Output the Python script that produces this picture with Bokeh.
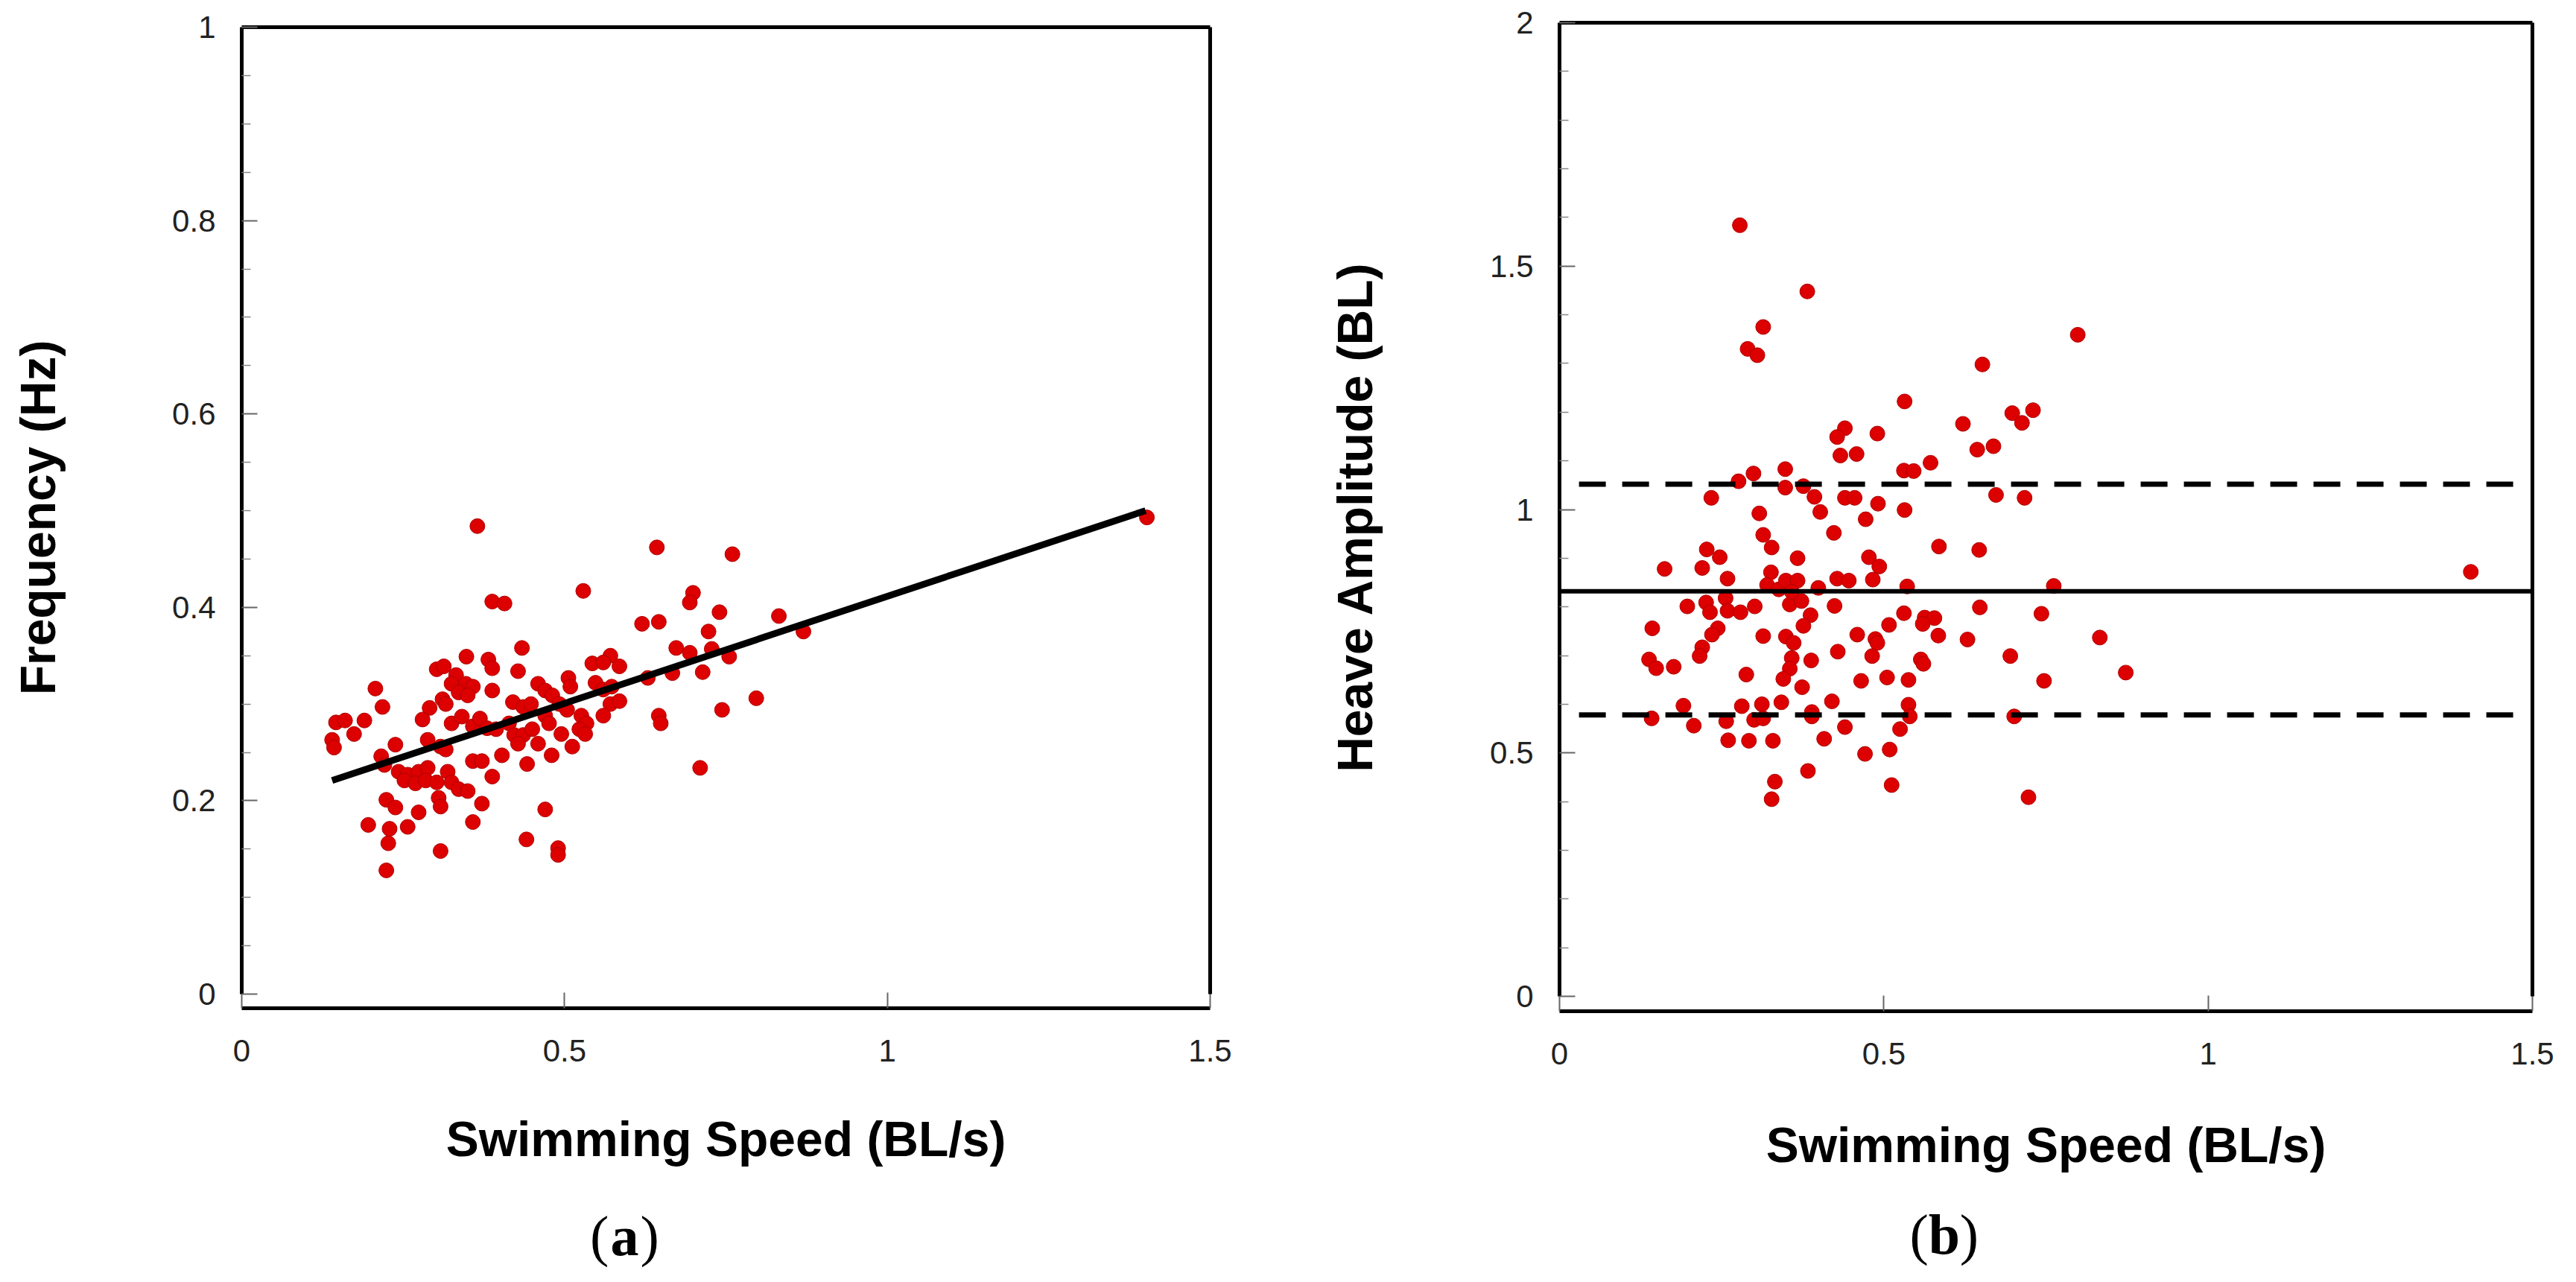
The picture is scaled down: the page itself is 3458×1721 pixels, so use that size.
from bokeh.plotting import figure
from bokeh.models import Range1d, FixedTicker, LinearAxis, Label
from bokeh.layouts import row, column
from bokeh.embed import file_html
from bokeh.resources import INLINE

# ---------------- data: panel (a) ----------------
speed_a = [0.365, 0.643, 0.760, 0.529, 0.388, 0.407, 0.699, 0.694, 0.740, 0.832,
           0.620, 0.646, 0.723, 0.870, 0.434, 0.673, 0.694, 0.728, 0.755, 0.348,
           0.382, 0.388, 0.428, 0.543, 0.571, 0.560, 0.585, 0.629, 0.667, 0.714,
           0.302, 0.313, 0.332, 0.325, 0.347, 0.358, 0.336, 0.350, 0.207, 0.388,
           0.459, 0.470, 0.506, 0.509, 0.548, 0.560, 0.573, 0.311, 0.316, 0.218,
           0.420, 0.436, 0.448, 0.481, 0.492, 0.504, 0.571, 0.585, 0.797, 0.744,
           0.291, 0.280, 0.146, 0.160, 0.190, 0.174, 0.140, 0.143, 0.238, 0.216,
           0.221, 0.288, 0.308, 0.316, 0.325, 0.341, 0.358, 0.369, 0.380, 0.394,
           0.414, 0.422, 0.436, 0.428, 0.450, 0.459, 0.470, 0.476, 0.495, 0.512,
           0.526, 0.534, 0.523, 0.532, 0.560, 0.646, 0.649, 0.358, 0.372, 0.403,
           0.442, 0.480, 0.388, 0.710, 0.243, 0.257, 0.274, 0.288, 0.252, 0.269,
           0.285, 0.302, 0.319, 0.325, 0.336, 0.350, 0.224, 0.238, 0.305, 0.308,
           0.372, 0.274, 0.470, 0.196, 0.229, 0.257, 0.358, 0.227, 0.308, 0.441,
           0.490, 0.490, 0.224, 1.402]
freq_a = [0.484, 0.462, 0.455, 0.417, 0.406, 0.404, 0.415, 0.405, 0.395, 0.391,
          0.383, 0.385, 0.375, 0.375, 0.358, 0.358, 0.353, 0.357, 0.349, 0.349,
          0.346, 0.337, 0.334, 0.342, 0.350, 0.343, 0.339, 0.327, 0.332, 0.333,
          0.336, 0.339, 0.330, 0.321, 0.321, 0.318, 0.312, 0.309, 0.316, 0.314,
          0.321, 0.314, 0.327, 0.318, 0.322, 0.315, 0.318, 0.305, 0.300, 0.297,
          0.302, 0.297, 0.300, 0.309, 0.300, 0.294, 0.300, 0.303, 0.306, 0.294,
          0.296, 0.284, 0.281, 0.283, 0.283, 0.269, 0.263, 0.255, 0.258, 0.246,
          0.237, 0.263, 0.256, 0.253, 0.280, 0.287, 0.277, 0.285, 0.275, 0.274,
          0.280, 0.268, 0.268, 0.259, 0.274, 0.259, 0.288, 0.280, 0.269, 0.256,
          0.288, 0.280, 0.274, 0.269, 0.288, 0.288, 0.280, 0.241, 0.241, 0.247,
          0.238, 0.247, 0.225, 0.234, 0.230, 0.227, 0.230, 0.234, 0.221, 0.218,
          0.221, 0.219, 0.230, 0.219, 0.212, 0.210, 0.201, 0.193, 0.203, 0.194,
          0.197, 0.188, 0.191, 0.175, 0.171, 0.173, 0.178, 0.156, 0.148, 0.160,
          0.151, 0.144, 0.128, 0.493]
fit_speed = [0.14, 1.40]
fit_freq = [0.221, 0.500]

# ---------------- data: panel (b) ----------------
speed_b = [0.278, 0.382, 0.314, 0.290, 0.305, 0.799, 0.652, 0.532, 0.730, 0.698,
           0.713, 0.622, 0.440, 0.428, 0.490, 0.433, 0.458, 0.669, 0.644, 0.572,
           0.531, 0.546, 0.299, 0.276, 0.348, 0.348, 0.376, 0.393, 0.402, 0.234,
           0.440, 0.455, 0.491, 0.673, 0.717, 0.308, 0.532, 0.472, 0.423, 0.314,
           0.327, 0.227, 0.247, 0.220, 0.162, 0.367, 0.585, 0.647, 0.477, 0.493,
           0.483, 0.259, 0.326, 0.320, 0.338, 0.349, 0.367, 0.399, 0.428, 0.446,
           0.536, 0.762, 0.226, 0.256, 0.232, 0.259, 0.279, 0.301, 0.197, 0.355,
           0.373, 0.358, 0.424, 0.648, 0.531, 0.563, 0.578, 0.560, 0.743, 0.143,
           0.244, 0.235, 0.387, 0.376, 0.508, 0.314, 0.349, 0.361, 0.459, 0.487,
           0.490, 0.584, 0.629, 0.833, 0.220, 0.216, 0.138, 0.149, 0.176, 0.358,
           0.355, 0.388, 0.429, 0.482, 0.557, 0.561, 0.695, 0.873, 0.288, 0.345,
           0.374, 0.465, 0.505, 0.538, 0.747, 0.191, 0.281, 0.312, 0.342, 0.420,
           0.538, 0.142, 0.207, 0.257, 0.300, 0.314, 0.389, 0.389, 0.440, 0.540,
           0.525, 0.701, 0.260, 0.292, 0.329, 0.408, 0.471, 0.509, 0.383, 0.332,
           0.327, 0.512, 0.723, 1.405]
heave_b = [1.584, 1.448, 1.375, 1.330, 1.317, 1.359, 1.298, 1.222, 1.204, 1.198,
           1.178, 1.176, 1.167, 1.149, 1.156, 1.111, 1.114, 1.130, 1.123, 1.096,
           1.080, 1.079, 1.074, 1.058, 1.083, 1.045, 1.048, 1.026, 0.995, 1.024,
           1.024, 1.024, 1.012, 1.030, 1.024, 0.992, 0.999, 0.980, 0.952, 0.948,
           0.922, 0.918, 0.902, 0.880, 0.878, 0.900, 0.924, 0.917, 0.902, 0.883,
           0.856, 0.858, 0.871, 0.845, 0.836, 0.854, 0.854, 0.839, 0.858, 0.854,
           0.842, 0.843, 0.809, 0.818, 0.789, 0.792, 0.789, 0.801, 0.801, 0.805,
           0.812, 0.831, 0.802, 0.799, 0.787, 0.778, 0.777, 0.765, 0.786, 0.756,
           0.756, 0.743, 0.783, 0.761, 0.763, 0.740, 0.739, 0.726, 0.743, 0.734,
           0.726, 0.741, 0.733, 0.737, 0.717, 0.699, 0.692, 0.674, 0.677, 0.695,
           0.673, 0.690, 0.708, 0.699, 0.692, 0.683, 0.699, 0.665, 0.661, 0.652,
           0.635, 0.648, 0.655, 0.650, 0.648, 0.597, 0.596, 0.600, 0.604, 0.606,
           0.599, 0.571, 0.556, 0.565, 0.568, 0.571, 0.584, 0.575, 0.553, 0.575,
           0.549, 0.575, 0.526, 0.525, 0.525, 0.529, 0.498, 0.507, 0.463, 0.441,
           0.405, 0.434, 0.409, 0.872]
heave_mean = 0.832
heave_upper = 1.052
heave_lower = 0.578
mean_line_x = [0.0, 1.5]
band_line_x = [0.03, 1.49]

# ---------------- ticks ----------------
x_ticks = [0, 0.5, 1, 1.5]
x_tick_labels = ["0", "0.5", "1", "1.5"]
ya_ticks = [0, 0.2, 0.4, 0.6, 0.8, 1]
ya_tick_labels = ["0", "0.2", "0.4", "0.6", "0.8", "1"]
yb_ticks = [0, 0.5, 1, 1.5, 2]
yb_tick_labels = ["0", "0.5", "1", "1.5", "2"]

SANS = "Liberation Sans"
SERIF = "Liberation Serif"
RED = "#dc0000"
RED_EDGE = "#b00000"


def style_axis(ax, ticks, labels, minor, bounds, label_standoff, axis_label_standoff):
    ax.ticker = FixedTicker(ticks=ticks, minor_ticks=minor)
    ax.major_label_overrides = {t: s for t, s in zip(ticks, labels)}
    ax.bounds = bounds
    ax.axis_line_width = 5
    ax.axis_line_color = "black"
    ax.major_tick_in = 21
    ax.major_tick_out = 0
    ax.minor_tick_in = 12
    ax.minor_tick_out = 0
    ax.major_tick_line_color = "#666666"
    ax.major_tick_line_width = 2
    ax.minor_tick_line_color = "#888888"
    ax.minor_tick_line_width = 1.5
    ax.major_label_text_font = SANS
    ax.major_label_text_font_size = "42px"
    ax.major_label_text_color = "#222222"
    ax.major_label_standoff = label_standoff
    ax.axis_label_text_font = SANS
    ax.axis_label_text_font_size = "66px"
    ax.axis_label_text_font_style = "bold"
    ax.axis_label_text_color = "black"
    ax.axis_label_standoff = axis_label_standoff


def border_axis(p, side, bounds):
    ax = LinearAxis(ticker=FixedTicker(ticks=[], minor_ticks=[]), bounds=bounds,
                    axis_line_width=5, axis_line_color="black",
                    major_tick_in=0, major_tick_out=0, minor_tick_in=0, minor_tick_out=0,
                    major_label_text_font_size="0px")
    p.add_layout(ax, side)


def make_fig(fw, fh, bl, br, bt, bb, ystart, yend, yticks, ylabels, yminor, ylabel,
             x_lab_standoff, y_lab_standoff):
    p = figure(frame_width=fw, frame_height=fh,
               min_border_left=bl, min_border_right=br,
               min_border_top=bt, min_border_bottom=bb,
               x_range=Range1d(0, 1.5), y_range=Range1d(ystart, yend),
               output_backend="svg", toolbar_location=None)
    p.outline_line_color = None
    p.xgrid.grid_line_color = None
    p.ygrid.grid_line_color = None
    p.background_fill_color = "white"
    p.border_fill_color = "white"
    style_axis(p.xaxis[0], x_ticks, x_tick_labels, [], (0, 1.5), 42, x_lab_standoff)
    style_axis(p.yaxis[0], yticks, ylabels, yminor, (0, yend), 35, y_lab_standoff)
    p.xaxis[0].axis_label = "Swimming Speed (BL/s)"
    p.yaxis[0].axis_label = ylabel
    border_axis(p, "right", (0, yend))
    border_axis(p, "above", (0, 1.5))
    return p


def label_fig(fw, bl, br, letter, x, y):
    f = figure(frame_width=fw, frame_height=100,
               min_border_left=bl, min_border_right=br,
               min_border_top=0, min_border_bottom=0,
               x_range=Range1d(0, 1.5), y_range=Range1d(0, 100),
               x_axis_location=None, y_axis_location=None,
               output_backend="svg", toolbar_location=None)
    f.outline_line_color = None
    f.xgrid.grid_line_color = None
    f.ygrid.grid_line_color = None
    f.background_fill_color = "white"
    f.border_fill_color = "white"
    parts = [("(", -21, "normal", "right"), (letter, 0, "bold", "center"), (")", 21, "normal", "left")]
    for txt, off, style, align in parts:
        f.add_layout(Label(x=x, y=y, text=txt, x_offset=off, text_align=align,
                           text_baseline="middle", text_font=SERIF,
                           text_font_size="76px", text_font_style=style,
                           text_color="black"))
    return f


ya_minor = [round(i * 0.05, 2) for i in range(21) if i % 4]
yb_minor = [round(i * 0.1, 1) for i in range(21) if i % 5]

# panel (a)
pa = make_fig(1300, 1317, 324, 97, 36, 249, -0.0146, 1.0,
              ya_ticks, ya_tick_labels, ya_minor, "Frequency (Hz)", 64, 140)
pa.scatter(speed_a, freq_a, size=20, fill_color=RED, line_color=RED_EDGE, line_width=1)
pa.line(fit_speed, fit_freq, line_color="black", line_width=9)
fa = label_fig(1300, 324, 97, "a", 0.593, 44)

# panel (b)
pb = make_fig(1306, 1327, 372, 40, 30, 245, -0.0306, 2.0,
              yb_ticks, yb_tick_labels, yb_minor, "Heave Amplitude (BL)", 68, 141)
pb.scatter(speed_b, heave_b, size=20, fill_color=RED, line_color=RED_EDGE, line_width=1)
pb.line(mean_line_x, [heave_mean, heave_mean], line_color="black", line_width=6)
pb.line(band_line_x, [heave_upper, heave_upper], line_color="black", line_width=7, line_dash="36 22")
pb.line(band_line_x, [heave_lower, heave_lower], line_color="black", line_width=7, line_dash="36 22")
fb = label_fig(1306, 372, 40, "b", 0.593, 46)

layout = row(column(pa, fa), column(pb, fb))
open("out.html", "w").write(file_html(layout, INLINE))
